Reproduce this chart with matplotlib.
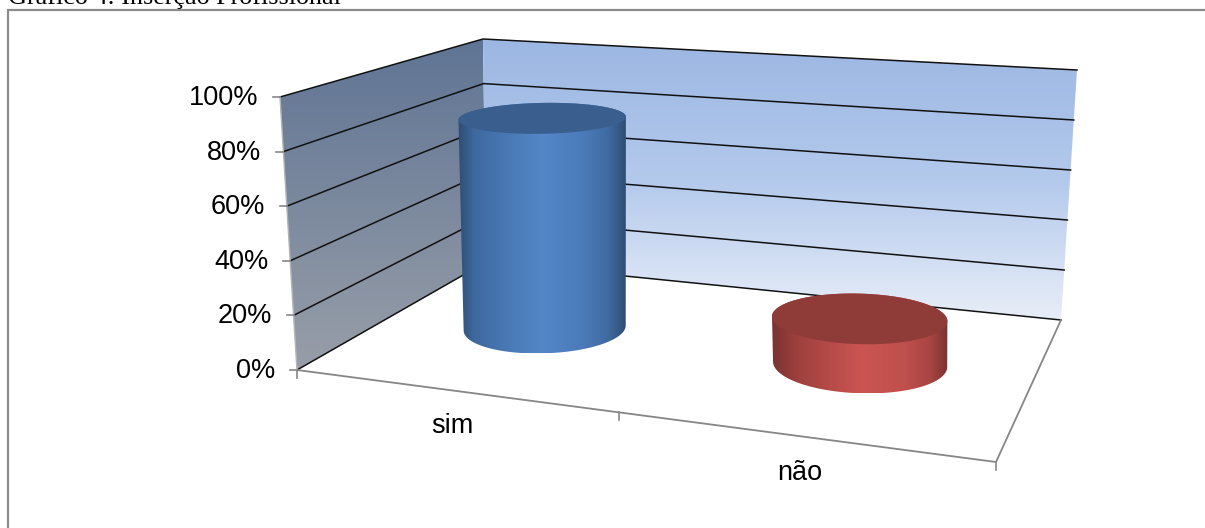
import numpy as np
import matplotlib
matplotlib.use("Agg")
import matplotlib.pyplot as plt
from matplotlib.colors import LinearSegmentedColormap
from matplotlib.patches import Polygon

categories = ["sim", "não"]
values = [83, 17]
ticks = [0, 20, 40, 60, 80, 100]
tick_labels = ["0%", "20%", "40%", "60%", "80%", "100%"]
title = "Gráfico 4: Inserção Profissional"

W, H = 1205, 528
fig = plt.figure(figsize=(W / 100, H / 100), dpi=100)
ax = fig.add_axes([0, 0, 1, 1])
ax.set_xlim(0, W)
ax.set_ylim(H, 0)
ax.axis("off")

# Box corners on screen: (width fraction, depth fraction) with depth 1 at the back wall
floor = {(0, 0): (297, 370), (0, 1): (486, 262), (1, 1): (1061, 320), (1, 0): (996, 462)}
ceil = {(0, 0): (280, 97), (0, 1): (483, 39), (1, 1): (1077, 70), (1, 0): (977, 156)}


def homography(corners):
    rows, rhs = [], []
    for (u, d), (x, y) in corners.items():
        rows.append([u, d, 1, 0, 0, 0, -u * x, -d * x])
        rows.append([0, 0, 0, u, d, 1, -u * y, -d * y])
        rhs += [x, y]
    return np.append(np.linalg.solve(np.array(rows, float), np.array(rhs, float)), 1).reshape(3, 3)


H_floor, H_ceil = homography(floor), homography(ceil)


def apply(M, u, d):
    p = M @ np.vstack([u, d, np.ones_like(u)])
    return p[0] / p[2], p[1] / p[2]


def project(u, d, v):
    u, d = np.atleast_1d(u, d)
    u, d = np.broadcast_arrays(u, d)
    fx, fy = apply(H_floor, u, d)
    cx, cy = apply(H_ceil, u, d)
    t = np.asarray(v) / 100
    return fx + (cx - fx) * t, fy + (cy - fy) * t


def gradient(stops, extent, path_xy, vertical=True, z=1):
    cmap = LinearSegmentedColormap.from_list("g", stops)
    g = np.linspace(0, 1, 256)
    g = g[:, None] if vertical else g[None, :]
    im = ax.imshow(g, cmap=cmap, extent=extent, aspect="auto", zorder=z, vmin=0, vmax=1,
                   interpolation="bilinear")
    clip = Polygon(path_xy, closed=True, transform=ax.transData, fc="none", ec="none")
    ax.add_patch(clip)
    im.set_clip_path(clip)
    ax.set_xlim(0, W)
    ax.set_ylim(H, 0)


def wall(u0, d0, u1, d1, stops):
    xs, ys = project([u0, u1, u1, u0], [d0, d1, d1, d0], [0, 0, 100, 100])
    pts = np.column_stack([xs, ys])
    gradient(stops, (xs.min(), xs.max(), ys.max(), ys.min()), pts)


wall(0, 0, 0, 1, ["#5f7494", "#989ea8"])
wall(0, 1, 1, 1, ["#9cb7e3", "#b3c9ec", "#e8eef8"])

# Gridlines along both walls
for t in ticks:
    xs, ys = project([0, 0, 1], [0, 1, 1], [t, t, t])
    ax.plot(xs, ys, color="#111111", lw=1.1, zorder=2, solid_joinstyle="miter")

# Left wall front edge, floor edges and axis ticks
xs, ys = project([0, 0], [0, 0], [0, 100])
ax.plot(xs, ys, color="#b4b4b4", lw=1, zorder=2)
xs, ys = project([0, 1, 1], [0, 0, 1], [0, 0, 0])
ax.plot(xs, ys, color="#868686", lw=1.3, zorder=2)
for t, lab in zip(ticks, tick_labels):
    x, y = project(0, 0, t)
    ax.plot([x[0] - 7, x[0]], [y[0], y[0]], color="#868686", lw=1.2, zorder=2)
    ax.text(x[0] - 22, y[0] + 1, lab, ha="right", va="center", fontsize=19.5,
            family="Liberation Sans", color="black", zorder=5)
for u in [0, 0.5, 1]:
    x, y = project(u, 0, 0)
    ax.plot([x[0], x[0]], [y[0], y[0] + 8], color="#868686", lw=1.2, zorder=2)

for i, cat in enumerate(categories):
    x, y = project((i + 0.5) / len(categories), 0, 0)
    ax.text(x[0], y[0] + 36 + i, cat, ha="center", va="center", fontsize=19.5,
            family="Liberation Sans", color="black", zorder=5)

# Cylinders standing on the floor, heights taken from the values
body_colors = [[(0, "#2f4d73"), (0.1, "#3f6aa0"), (0.5, "#5487c9"), (0.75, "#4a7ab8"),
                (0.9, "#3f6aa0"), (1, "#2f4d73")],
               [(0, "#7a3331"), (0.15, "#9f413e"), (0.5, "#cb5451"), (0.75, "#c0504d"),
                (0.9, "#a84542"), (1, "#7a3331")]]
top_colors = ["#3a5f8e", "#8f3b38"]
R_U, R_D = 0.125, 0.21
ang = np.linspace(0, 2 * np.pi, 361)
for i, val in enumerate(values):
    uc = (i + 0.5) / len(values) + 0.003
    u = uc + R_U * np.cos(ang)
    d = 0.5 + R_D * np.sin(ang)
    bx, by = project(u, d, 0 * ang)
    # Top outline: the base outline lifted by the value, flatter the higher it sits
    x0, y0 = project(uc, 0.5, 0)
    x1, y1 = project(uc, 0.5, val)
    grow = 1 + 0.0004 * val
    flat = 1 - 0.38 * (val / 80) ** 0.7
    cx_b, cy_b = bx.mean(), by.mean()
    tx = cx_b + (bx - cx_b) * grow + 0.15 * (x1[0] - x0[0])
    ty = y1[0] + 1 + (by - cy_b) * flat

    left, right = np.argmin(bx), np.argmax(bx)
    lt, rt = np.argmin(tx), np.argmax(tx)
    idx = np.arange(len(ang))
    lower_b = idx[by >= np.interp(bx, [bx[left], bx[right]], [by[left], by[right]])]
    lower_b = lower_b[np.argsort(bx[lower_b])]
    upper_t = idx[ty <= np.interp(tx, [tx[lt], tx[rt]], [ty[lt], ty[rt]])]
    upper_t = upper_t[np.argsort(-tx[upper_t])]
    sil = np.column_stack([np.r_[bx[lower_b], tx[upper_t]], np.r_[by[lower_b], ty[upper_t]]])
    gradient(body_colors[i], (min(bx.min(), tx.min()), max(bx.max(), tx.max()),
                              max(by.max(), ty.max()), min(by.min(), ty.min())),
             sil, vertical=False, z=3)
    ax.fill(tx, ty, color=top_colors[i], lw=0, zorder=4)

# Frame runs along the top and left only; the caption sits cut by the top of the page
ax.plot([8, 8, W], [H, 10, 10], color="#8c8c8c", lw=1.6, zorder=6, solid_joinstyle="miter")
ax.text(8, 4, title, ha="left", va="baseline", fontsize=18.8, family="Liberation Serif",
        color="black", zorder=7)

fig.savefig("out.png", dpi=100)
